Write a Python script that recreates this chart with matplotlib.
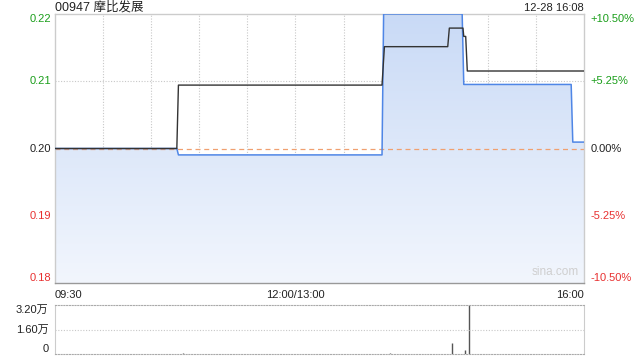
import matplotlib
matplotlib.use("Agg")
import matplotlib.pyplot as plt
import matplotlib.transforms as mtransforms
import numpy as np

plt.rcParams['font.family'] = ['Liberation Sans', 'Noto Sans CJK SC', 'DejaVu Sans']

# minutes since 09:30 (lunch break removed, 330 min in total)
price_t = [0, 76, 77, 204, 205, 254, 255, 322, 323, 330]
price_v = [0.200, 0.200, 0.199, 0.199, 0.221, 0.221, 0.210, 0.210, 0.201, 0.201]

avg_t = [0, 76, 77, 204, 205.5, 245, 246, 254.5, 255, 256.2, 257.2, 330]
avg_v = [0.200, 0.200, 0.2099, 0.2099, 0.2159, 0.2159, 0.2188, 0.2188, 0.2175, 0.2175, 0.2121, 0.2121]

vol_t = [80, 209, 247.5, 256, 258.5]
vol_v = [600, 700, 7200, 2600, 32000]

prev_close = 0.200
ymin, ymax = 0.179, 0.221
price_ticks = [0.221, 0.2105, 0.200, 0.1895, 0.179]
price_labels = ['0.22', '0.21', '0.20', '0.19', '0.18']
pct_labels = ['+10.50%', '+5.25%', '0.00%', '-5.25%', '-10.50%']
tick_colors = ['#1a9e1a', '#1a9e1a', '#222222', '#e83030', '#e83030']

vol_ticks = [0, 16000, 32000]
vol_labels = ['0', '1.60万', '3.20万']

title = '00947 摩比发展'
stamp = '12-28 16:08'

fig = plt.figure(figsize=(6.4, 3.6), dpi=100)
ax = fig.add_axes([55/640, 1-283/360, 529/640, 269/360])
axv = fig.add_axes([55/640, 1-354/360, 529/640, 49/360])

# gradient fill under price line
grad = np.linspace(0, 1, 256).reshape(-1, 1)
cmap = matplotlib.colors.LinearSegmentedColormap.from_list('g', ['#f2f6fd', '#c9daf6'])
img = ax.imshow(grad, extent=[0, 330, ymin, ymax], origin='lower', aspect='auto', cmap=cmap, zorder=1)
poly = ax.fill_between(price_t, price_v, ymin, color='none')
img.set_clip_path(poly.get_paths()[0], transform=ax.transData)

ax.plot(price_t, price_v, color='#4f86e6', lw=1.1, zorder=3)
ax.plot(avg_t, avg_v, color='#333333', lw=1.0, zorder=4)

ax.axhline(prev_close, color='#f0a070', lw=0.9, dashes=(4, 3), zorder=2)
for y in [0.2105, 0.1895]:
    ax.axhline(y, color='#c8c8c8', lw=0.8, ls=(0, (1, 1.5)), zorder=0)
for x in range(30, 330, 30):
    ax.axvline(x, color='#c8c8c8', lw=0.8, ls=(0, (1, 1.5)), zorder=0)

ax.set_xlim(0, 330)
ax.set_ylim(ymin, ymax)
ax.set_xticks([])
ax.set_yticks([])
for s in ax.spines.values():
    s.set_color('#cccccc')
    s.set_linewidth(1.0)
ax.spines['bottom'].set_color('#999999')

ytr = ax.get_yaxis_transform()
for i, (y, lab, pl, c) in enumerate(zip(price_ticks, price_labels, pct_labels, tick_colors)):
    va = 'top' if i == 0 else ('bottom' if i == len(price_ticks) - 1 else 'center')
    ax.text(-0.008, y, lab, transform=ytr, ha='right', va=va, fontsize=8, color=c)
    ax.text(1.012, y, pl, transform=ytr, ha='left', va=va, fontsize=8, color=c)

up = mtransforms.offset_copy(ax.transAxes, fig=fig, x=0, y=3, units='dots')
ax.text(0, 1, title, transform=up, ha='left', va='baseline', fontsize=9, color='#222222')
ax.text(1, 1, stamp, transform=up, ha='right', va='baseline', fontsize=8, color='#222222')
ax.text(0.945, 0.02, 'sina.com', transform=ax.transAxes, ha='center', va='bottom', fontsize=8.5, color='#cfcfcf')

ax.text(0, -0.025, '09:30', transform=ax.transAxes, ha='left', va='top', fontsize=8, color='#222222')
ax.text(150/330, -0.025, '12:00/13:00', transform=ax.transAxes, ha='center', va='top', fontsize=8, color='#222222')
ax.text(1, -0.025, '16:00', transform=ax.transAxes, ha='right', va='top', fontsize=8, color='#222222')

# volume panel
axv.vlines(vol_t, 0, vol_v, color='#555555', lw=1.0)
axv.axhline(16000, color='#c8c8c8', lw=0.8, ls=(0, (1, 1.5)))
axv.set_xlim(0, 330)
axv.set_ylim(0, 32000)
axv.set_xticks([])
axv.set_yticks([])
for s in ['left', 'right']:
    axv.spines[s].set_color('#cccccc')
for s in ['top', 'bottom']:
    axv.spines[s].set_color('#aaaaaa')
    axv.spines[s].set_linestyle((0, (1, 1.5)))
for v, lab in zip(vol_ticks, vol_labels):
    va = 'bottom' if v == 0 else ('top' if v == 32000 else 'center')
    axv.text(-0.012, v, lab, transform=axv.get_yaxis_transform(), ha='right',
             va=va, fontsize=8, color='#222222')

fig.savefig('out.png', dpi=100)
